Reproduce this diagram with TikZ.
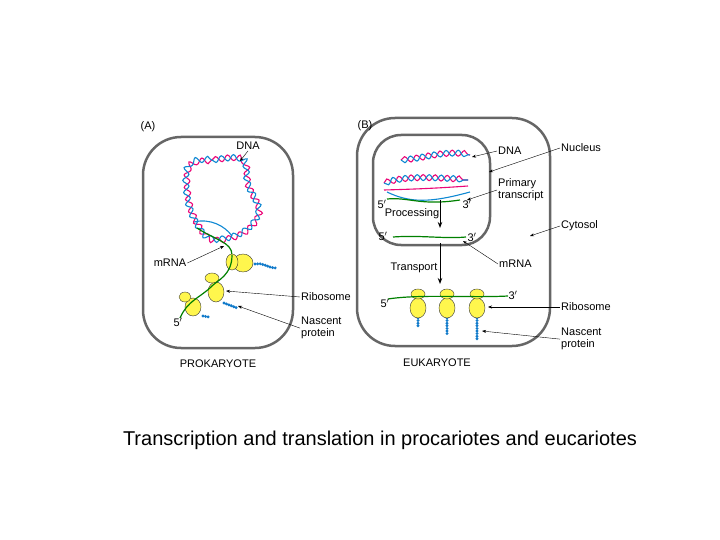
\documentclass[tikz,border=0pt]{standalone}
\usepackage{fontspec}
\setmainfont{Liberation Sans}
\usetikzlibrary{decorations.pathmorphing,arrows.meta}
\begin{document}
\begin{tikzpicture}[x=1pt,y=-1pt,
 cell/.style={draw=black!60,line width=2.5pt,rounded corners=38pt},
 nuc/.style={draw=black!60,line width=2.5pt,rounded corners=28pt},
 lbl/.style={font=\fontsize{11}{12}\selectfont,inner sep=1pt},
 lblt/.style={font=\fontsize{11}{12}\selectfont,inner sep=1pt,align=left},
 ptr/.style={-{Stealth[length=4pt]},thin},
 big/.style={-{Stealth[length=6pt]},line width=1pt},
 dnaa/.style={draw=magenta!80!red,line width=1.1pt,decorate,decoration={snake,segment length=12pt,amplitude=3pt}},
 dnab/.style={draw=cyan!70!blue,line width=1.1pt,decorate,decoration={snake,segment length=12pt,amplitude=3pt,mirror}},
 rna/.style={draw=green!50!black,line width=1.2pt},
 rib/.style={fill=yellow!70!white,draw=black!80,thin},
 prot/.style={draw=cyan!60!blue,line width=3.2pt,dash pattern=on 0pt off 2.6pt,line cap=round}]
\useasboundingbox (0,0) rectangle (720,540);
% cells
\draw[cell] (143,137) rectangle (293,348);
\draw[cell] (357,118) rectangle (550,346);
\draw[nuc] (373,135) rectangle (490,245);
% A DNA
\foreach \s in {dnaa,dnab}
 \draw[\s] plot[smooth cycle,tension=0.6] coordinates {(186,166) (212,160) (240,160) (245,185) (256,212) (240,233) (210,240) (195,226) (185,200)};
% A mRNA
\draw[draw=cyan!70!blue,line width=1.1pt] (194,222) .. controls (210,218) and (225,226) .. (232,236);
\draw[rna] (197,228) .. controls (215,240) and (232,242) .. (232,255);
\coordinate (ma) at (224,246);
% A ribosomes
\draw[rib] (243,263) ellipse (10 and 9);
\draw[rib] (232,262) ellipse (6 and 8);
\draw[rib] (216,292) ellipse (8 and 10);
\draw[rib] (212,278) ellipse (7 and 5);
\draw[rib] (193,307) ellipse (8 and 9);
\draw[rib] (185,297) ellipse (6 and 5);
\draw[rna] (232,255) .. controls (232,275) and (218,280) .. (212,286) .. controls (200,298) and (188,300) .. (180,318);
\draw[prot] (255,264) .. controls (262,262) and (268,268) .. (276,268);
\draw[prot] (224,303) -- (237,308);
\draw[prot] (203,316) -- (209,317);
% A labels
\node[lbl] (Aa) at (148,127) {(A)};
\node[lbl] (dnaA) at (248,146) {DNA};
\coordinate (dnaAt) at (240,161);
\draw[ptr] (dnaA.south) -- (dnaAt);
\node[lbl] (mrnaA) at (170,263) {mRNA};
\draw[ptr] (mrnaA.east) -- (ma);
\node[lbl,anchor=west] (ribA) at (300,297) {Ribosome};
\coordinate (ribAt) at (226,291);
\draw[ptr] (ribA.west) -- (ribAt);
\node[lblt,anchor=north west] (npA) at (300,316) {Nascent\\protein};
\coordinate (npAt) at (238,306);
\draw[ptr] (npA.west) -- (npAt);
\node[lbl] (fA) at (178,322) {5$'$};
\node[lbl] (pro) at (218,364) {PROKARYOTE};
% B DNA
\foreach \s in {dnaa,dnab}{
 \draw[\s] (401,160) .. controls (425,158) and (440,150) .. (470,155);
 \draw[\s] (384,183) .. controls (410,175) and (440,180) .. (468,180);
}
\draw[draw=magenta!80!red,line width=1.1pt] (384,190) .. controls (420,189) and (440,188) .. (468,186);
\draw[draw=cyan!70!blue,line width=1.1pt] (387,192) .. controls (410,203) and (430,203) .. (470,192);
\draw[rna] (387,199) .. controls (410,197) and (420,206) .. (460,200);
\draw[rna] (393,237) .. controls (420,235) and (445,239) .. (466,237);
\foreach \x/\l in {418/8,447/16,477/22}{
 \draw[prot] (\x,318) -- (\x,318+\l);
 \draw[rib] (\x,308) ellipse (8 and 10);
 \draw[rib] (\x,294) ellipse (7 and 5);
}
\draw[rna] (388,299) .. controls (420,294) and (470,298) .. (508,296);
\coordinate (p1) at (440,200);\coordinate (p2) at (440,228);
\draw[big] (p1) -- (p2);
\coordinate (t1) at (440,243);\coordinate (t2) at (440,284);
\draw[big] (t1) -- (t2);
% B labels
\node[lbl] (Bb) at (365,126) {(B)};
\node[lbl,anchor=west] (nucl) at (560,148) {Nucleus};
\coordinate (nuclt) at (489,172);
\draw[ptr] (nucl.west) -- (nuclt);
\node[lbl,anchor=west] (dnaB) at (497,151) {DNA};
\coordinate (dnaBt) at (472,157);
\draw[ptr] (dnaB.west) -- (dnaBt);
\node[lblt,anchor=west] (pt) at (497,190) {Primary\\transcript};
\coordinate (ptt) at (467,200);
\draw[ptr] (pt.west) -- (ptt);
\node[lbl] (f1) at (382,204) {5$'$};
\node[lbl] (t3a) at (467,204) {3$'$};
\node[lbl] (proc) at (412,214) {Processing};
\node[lbl] (f2) at (383,236) {5$'$};
\node[lbl] (t3b) at (472,237) {3$'$};
\node[lbl,anchor=west] (cyto) at (560,226) {Cytosol};
\coordinate (cytot) at (530,236);
\draw[ptr] (cyto.west) -- (cytot);
\node[lbl,anchor=west] (mrnaB) at (498,264) {mRNA};
\coordinate (mrnaBt) at (463,241);
\draw[ptr] (mrnaB.west) -- (mrnaBt);
\node[lbl] (tr) at (414,268) {Transport};
\node[lbl] (f3) at (385,303) {5$'$};
\node[lbl] (t3c) at (513,295) {3$'$};
\node[lbl,anchor=west] (ribB) at (560,307) {Ribosome};
\coordinate (ribBt) at (488,307);
\draw[ptr] (ribB.west) -- (ribBt);
\node[lblt,anchor=north west] (npB) at (560,327) {Nascent\\protein};
\coordinate (npBt) at (482,331);
\draw[ptr] (npB.west) -- (npBt);
\node[lbl] (euk) at (437,363) {EUKARYOTE};
\node[font=\fontsize{20}{22}\selectfont] (cap) at (380,440) {Transcription and translation in procariotes and eucariotes};
\end{tikzpicture}
\end{document}
